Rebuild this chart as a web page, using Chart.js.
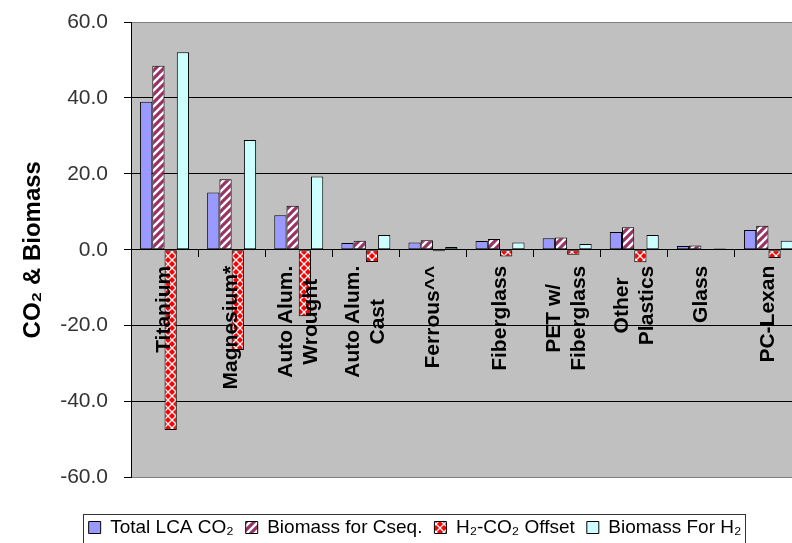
<!DOCTYPE html>
<html>
<head>
<meta charset="utf-8">
<script src="https://cdn.jsdelivr.net/npm/chart.js@4"></script>
<style>
  html, body { margin: 0; padding: 0; background: #fff; overflow: hidden; }
</style>
</head>
<body>
<canvas id="myChart" width="812" height="547"></canvas>
<script>
const categories = [['Titanium'], ['Magnesium*'], ['Auto Alum.', 'Wrought'], ['Auto Alum.', 'Cast'], ['Ferrous^^'],
  ['Fiberglass'], ['PET w/', 'Fiberglass'], ['Other', 'Plastics'], ['Glass'], ['PC-Lexan']];
const totalLCA = [39.0, 15.1, 9.1, 1.8, 1.9, 2.3, 3.0, 4.7, 1.0, 5.2];
const biomassCseq = [48.5, 18.6, 11.6, 2.4, 2.5, 2.8, 3.2, 5.9, 1.1, 6.3];
const h2Offset = [-47.5, -26.4, -17.5, -3.2, -0.4, -1.8, -1.3, -3.3, 0, -2.2];
const biomassH2 = [52.0, 28.9, 19.3, 3.9, 0.7, 1.9, 1.5, 3.9, 0.3, 2.4];
const yTicks = [-60, -40, -20, 0, 20, 40, 60];

const FONT = '"Liberation Sans", Arial, sans-serif';

// hatch fills
function stripes() {
  const c = document.createElement('canvas');
  c.width = 8; c.height = 8;
  const g = c.getContext('2d');
  g.fillStyle = '#fff';
  g.fillRect(0, 0, 8, 8);
  g.strokeStyle = '#993366';
  g.lineWidth = 3.2;
  g.beginPath();
  g.moveTo(-2, 10); g.lineTo(10, -2);
  g.moveTo(-2, 2); g.lineTo(2, -2);
  g.moveTo(6, 10); g.lineTo(10, 6);
  g.stroke();
  return g.createPattern(c, 'repeat');
}
function trellis() {
  const c = document.createElement('canvas');
  c.width = 8; c.height = 8;
  const g = c.getContext('2d');
  g.fillStyle = '#ff0000';
  g.fillRect(0, 0, 8, 8);
  g.strokeStyle = '#ffffff';
  g.lineWidth = 1.3;
  g.beginPath();
  g.moveTo(0, 0); g.lineTo(8, 8);
  g.moveTo(0, 8); g.lineTo(8, 0);
  g.stroke();
  return g.createPattern(c, 'repeat');
}

const plotBg = {
  id: 'plotBg',
  beforeDraw(chart) {
    const {ctx, chartArea: a} = chart;
    ctx.save();
    ctx.fillStyle = '#c0c0c0';
    ctx.fillRect(a.left, a.top, a.right - a.left, a.bottom - a.top);
    ctx.restore();
  }
};

// rotated category names, drawn over the bars like the original
const catLabels = {
  id: 'catLabels',
  afterDatasetsDraw(chart) {
    const {ctx, scales: {x, y}} = chart;
    const top = y.getPixelForValue(0) + 16;
    ctx.save();
    ctx.font = 'bold 21px ' + FONT;
    ctx.fillStyle = '#000';
    ctx.textAlign = 'center';
    ctx.textBaseline = 'middle';
    categories.forEach((lines, i) => {
      const px = x.getPixelForValue(i);
      const w = Math.max(...lines.map(l => ctx.measureText(l).width));
      lines.forEach((line, j) => {
        ctx.save();
        ctx.translate(px + (j - (lines.length - 1) / 2) * 25, top + w / 2);
        ctx.rotate(-Math.PI / 2);
        ctx.fillText(line, 0, 0);
        ctx.restore();
      });
    });
    ctx.restore();
  }
};

const legendFrame = {
  id: 'legendFrame',
  afterDraw(chart) {
    const boxes = chart.legend.legendHitBoxes;
    if (!boxes || !boxes.length) return;
    const ctx = chart.ctx;
    const l = Math.round(Math.min(...boxes.map(b => b.left)) - 6);
    const r = Math.round(Math.max(...boxes.map(b => b.left + b.width)) + 4);
    const t = Math.round(boxes[0].top - 4);
    ctx.save();
    ctx.strokeStyle = '#333';
    ctx.lineWidth = 1;
    ctx.strokeRect(l + 0.5, t + 0.5, r - l, chart.height - t + 10);
    ctx.restore();
  }
};

const ctx = document.getElementById('myChart');

new Chart(ctx, {
  type: 'bar',
  data: {
    labels: categories,
    datasets: [{
      label: 'Total LCA CO₂',
      data: totalLCA,
      backgroundColor: '#9999ff'
    }, {
      label: 'Biomass for Cseq.',
      data: biomassCseq,
      backgroundColor: stripes()
    }, {
      label: 'H₂-CO₂ Offset',
      data: h2Offset,
      backgroundColor: trellis()
    }, {
      label: 'Biomass For H₂',
      data: biomassH2,
      backgroundColor: '#ccffff'
    }]
  },
  options: {
    responsive: false,
    animation: false,
    layout: { padding: { left: 28, right: 10, top: 22, bottom: 0 } },
    datasets: {
      bar: {
        borderColor: '#000',
        borderWidth: 1,
        borderSkipped: false,
        categoryPercentage: 0.73,
        barPercentage: 1
      }
    },
    scales: {
      x: {
        position: { y: 0 },
        grid: { drawOnChartArea: false, drawTicks: true, tickLength: 7, tickColor: '#000', offset: true },
        border: { display: true, color: '#000', width: 1 },
        ticks: { display: false }
      },
      y: {
        min: -60,
        max: 60,
        afterBuildTicks(scale) {
          scale.ticks = yTicks.map(v => ({ value: v }));
        },
        afterFit(scale) {
          scale.width = 103;
          scale.paddingTop = 0;
          scale.paddingBottom = 0;
        },
        grid: {
          color: c => (c.tick && Math.abs(c.tick.value) === 60) ? '#808080' : '#000',
          tickLength: 7,
          tickColor: '#000'
        },
        border: { display: true, color: '#000', width: 1 },
        ticks: {
          padding: 16,
          color: '#333',
          font: { family: FONT, size: 21 },
          callback: v => Number(v).toFixed(1)
        },
        title: {
          display: true,
          text: 'CO₂ & Biomass',
          color: '#000',
          font: { family: FONT, size: 24, weight: 'bold' },
          padding: { top: -9, bottom: 14 }
        }
      }
    },
    plugins: {
      tooltip: { enabled: false },
      legend: {
        position: 'bottom',
        title: { display: true, text: '', font: { size: 10, lineHeight: 1 }, padding: { top: 18.5, bottom: 0 } },
        labels: {
          boxWidth: 12,
          boxHeight: 12,
          padding: 12,
          color: '#000',
          font: { family: FONT, size: 19 }
        }
      }
    }
  },
  plugins: [plotBg, catLabels, legendFrame]
});
</script>
</body>
</html>
